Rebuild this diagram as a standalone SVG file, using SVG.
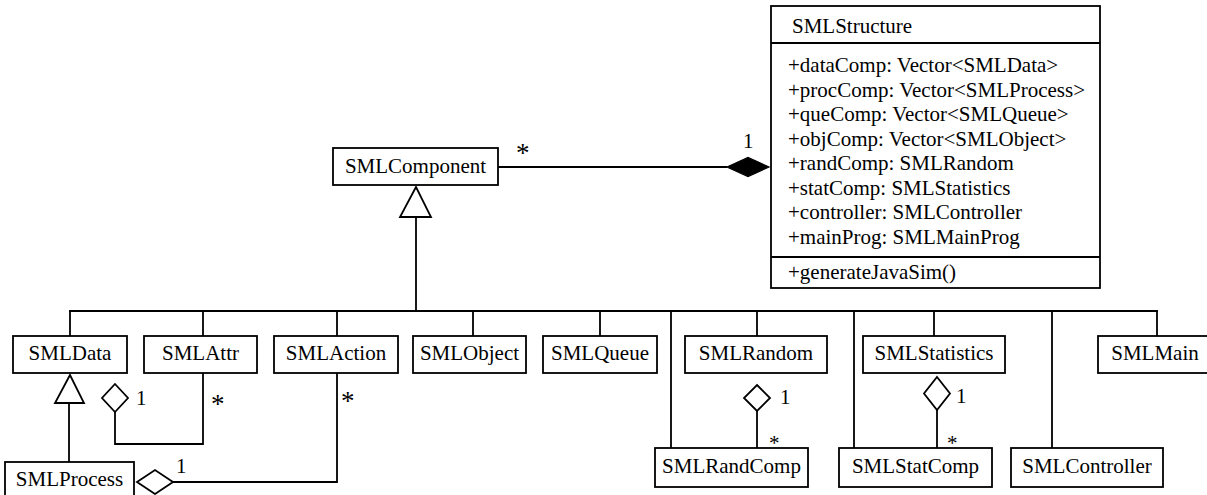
<svg xmlns="http://www.w3.org/2000/svg" width="1207" height="495" viewBox="0 0 1207 495">
  <style>
    .box { fill: #fff; stroke: #000; stroke-width: 1.8; }
    .line { fill: none; stroke: #000; stroke-width: 1.8; }
    .hollow { fill: #fff; stroke: #000; stroke-width: 1.8; stroke-linejoin: miter; }
    .solid { fill: #000; stroke: #000; stroke-width: 1.2; }
    text { font-family: "Liberation Serif", "Times New Roman", serif; font-size: 21px; fill: #000; }
    .name { text-anchor: middle; }
    .mult { font-size: 21px; }
    .star { font-size: 27px; }
    .star-sm { font-size: 21px; }
  </style>
  <rect width="1207" height="495" fill="#fff"/>

  <!-- connectors: generalization tree, composition and aggregations -->
  <g id="connectors">
    <!-- composition SMLComponent * — 1 SMLStructure -->
    <line class="line" x1="498" y1="167" x2="727" y2="167"/>
    <polygon class="solid" points="727,167 748,157.5 769,167 748,176.5"/>
    <text x="516" y="162" class="star">*</text>
    <text x="743" y="148" class="mult">1</text>

    <!-- inheritance from SMLComponent -->
    <line class="line" x1="416" y1="217" x2="416" y2="311"/>
    <polygon class="hollow" points="416,187 400,217 431,217"/>
    <line class="line" x1="69" y1="311" x2="1158" y2="311"/>
    <path class="line" d="M70,311 V336 M203,311 V336 M337,311 V336 M473,311 V336 M600,311 V336 M757,311 V336 M934,311 V336 M1157,311 V336"/>
    <path class="line" d="M671,311 V448 M854,311 V448 M1052,311 V448"/>

    <!-- SMLProcess specializes SMLData -->
    <line class="line" x1="69" y1="403" x2="69" y2="462"/>
    <polygon class="hollow" points="70,375 55,403 84,403"/>

    <!-- SMLData 1 ◇— * SMLAttr -->
    <polyline class="line" points="115,412 115,444 203,444 203,373"/>
    <polygon class="hollow" points="115,384 128,398 115,412 102,398"/>
    <text x="136" y="405" class="mult">1</text>
    <text x="211" y="413" class="star">*</text>

    <!-- SMLProcess 1 ◇— * SMLAction -->
    <polyline class="line" points="173,482 337,482 337,373"/>
    <polygon class="hollow" points="137,482 155,470 173,482 155,494"/>
    <text x="176" y="473" class="mult">1</text>
    <text x="341" y="410" class="star">*</text>

    <!-- SMLRandom 1 ◇— * SMLRandComp -->
    <line class="line" x1="757" y1="411" x2="757" y2="448"/>
    <polygon class="hollow" points="757,385 770,398 757,411 744,398"/>
    <text x="780" y="404" class="mult">1</text>
    <text x="769" y="450" class="star-sm">*</text>

    <!-- SMLStatistics 1 ◇— * SMLStatComp -->
    <line class="line" x1="937" y1="410" x2="937" y2="448"/>
    <polygon class="hollow" points="937,377 950,393.5 937,410 924,393.5"/>
    <text x="956" y="403" class="mult">1</text>
    <text x="947" y="450" class="star-sm">*</text>
  </g>

  <!-- SMLStructure class with attributes and operation -->
  <g id="SMLStructure">
    <rect class="box" x="771" y="6" width="329" height="282"/>
    <line class="line" x1="771" y1="43" x2="1100" y2="43"/>
    <line class="line" x1="771" y1="257" x2="1100" y2="257"/>
    <text x="792" y="33">SMLStructure</text>
    <text x="788" y="72">+dataComp: Vector&lt;SMLData&gt;</text>
    <text x="788" y="96.5">+procComp: Vector&lt;SMLProcess&gt;</text>
    <text x="788" y="121">+queComp: Vector&lt;SMLQueue&gt;</text>
    <text x="788" y="145.5">+objComp: Vector&lt;SMLObject&gt;</text>
    <text x="788" y="170">+randComp: SMLRandom</text>
    <text x="788" y="194.5">+statComp: SMLStatistics</text>
    <text x="788" y="219">+controller: SMLController</text>
    <text x="788" y="243.5">+mainProg: SMLMainProg</text>
    <text x="788" y="279">+generateJavaSim()</text>
  </g>

  <g id="SMLComponent">
    <rect class="box" x="333" y="148" width="165" height="37"/>
    <text x="415.5" y="173" class="name">SMLComponent</text>
  </g>

  <g id="SMLData">
    <rect class="box" x="13" y="336" width="114" height="37"/>
    <text x="70" y="360" class="name">SMLData</text>
  </g>
  <g id="SMLAttr">
    <rect class="box" x="144" y="336" width="113" height="37"/>
    <text x="200.5" y="360" class="name">SMLAttr</text>
  </g>
  <g id="SMLAction">
    <rect class="box" x="274" y="336" width="124" height="37"/>
    <text x="336" y="360" class="name">SMLAction</text>
  </g>
  <g id="SMLObject">
    <rect class="box" x="413" y="336" width="113" height="37"/>
    <text x="469.5" y="360" class="name">SMLObject</text>
  </g>
  <g id="SMLQueue">
    <rect class="box" x="543" y="336" width="114" height="37"/>
    <text x="600" y="360" class="name">SMLQueue</text>
  </g>
  <g id="SMLRandom">
    <rect class="box" x="685" y="336" width="142" height="37"/>
    <text x="756" y="360" class="name">SMLRandom</text>
  </g>
  <g id="SMLStatistics">
    <rect class="box" x="863" y="336" width="142" height="37"/>
    <text x="934" y="360" class="name">SMLStatistics</text>
  </g>
  <g id="SMLMain">
    <rect class="box" x="1098" y="336" width="114" height="37"/>
    <text x="1155" y="360" class="name">SMLMain</text>
  </g>

  <g id="SMLProcess">
    <rect class="box" x="5" y="462" width="129" height="40"/>
    <text x="69.5" y="486" class="name">SMLProcess</text>
  </g>
  <g id="SMLRandComp">
    <rect class="box" x="655" y="448" width="153" height="39"/>
    <text x="731.5" y="473" class="name">SMLRandComp</text>
  </g>
  <g id="SMLStatComp">
    <rect class="box" x="839" y="448" width="153" height="39"/>
    <text x="915.5" y="473" class="name">SMLStatComp</text>
  </g>
  <g id="SMLController">
    <rect class="box" x="1011" y="448" width="152" height="39"/>
    <text x="1087" y="473" class="name">SMLController</text>
  </g>
</svg>
